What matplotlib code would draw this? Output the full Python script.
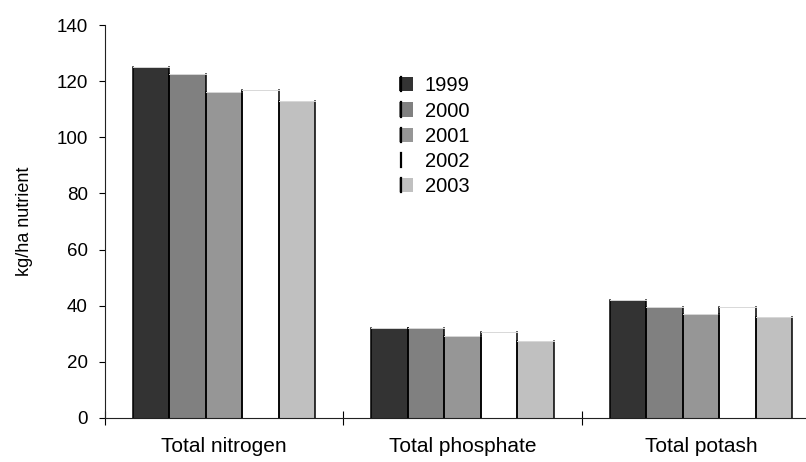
import matplotlib
matplotlib.use("Agg")
import matplotlib.pyplot as plt
from matplotlib.patches import Patch, Rectangle
from matplotlib.lines import Line2D
from matplotlib.legend_handler import HandlerBase
import numpy as np

# 数据
categories = ["Total nitrogen", "Total phosphate", "Total potash"]
years = ["1999", "2000", "2001", "2002", "2003"]
v1999 = [125.0, 32.0, 41.9]
v2000 = [122.6, 32.0, 39.5]
v2001 = [116.0, 29.1, 36.9]
v2002 = [116.7, 30.8, 39.7]
v2003 = [112.8, 27.5, 35.9]
series = [v1999, v2000, v2001, v2002, v2003]
colors = ["#333333", "#808080", "#969696", "#ffffff", "#c0c0c0"]

plt.rcParams["font.family"] = ["Liberation Sans", "DejaVu Sans"]


class BarHandler(HandlerBase):
    """图例方块, 左侧带黑线"""
    def create_artists(self, legend, orig_handle, xdescent, ydescent,
                       width, height, fontsize, trans):
        x0, y0 = -xdescent, -ydescent
        r = Rectangle((x0, y0), width, height, facecolor=orig_handle.get_facecolor(),
                      edgecolor="none", transform=trans)
        l = Line2D([x0 + 1.5, x0 + 1.5], [y0, y0 + height], color="black",
                   lw=1.6, transform=trans)
        return [r, l]


fig = plt.figure(figsize=(8.06, 4.62), dpi=100)
ax = fig.add_axes([105 / 806, 44 / 462, 715 / 806, 393 / 462])

xs = np.arange(len(categories))
width = 0.153
for i, (vals, c) in enumerate(zip(series, colors)):
    bars = ax.bar(xs + (i - 2) * width, vals, width, color=c, edgecolor="none",
                  label=years[i], zorder=2)
    # 柱子左右黑边
    for b in bars:
        x0 = b.get_x()
        h = b.get_height()
        ax.plot([x0 + width, x0 + width], [0, h], color="black", lw=1.1, zorder=3)
        ax.plot([x0, x0], [0, h], color="black", lw=1.1, zorder=3)
        ax.plot([x0, x0 + width], [h, h], color="#d8d8d8", lw=0.7, zorder=3)

ax.set_xlim(-0.5, 2.5)
ax.set_ylim(0, 140)
ax.set_yticks(range(0, 141, 20))
ax.tick_params(axis="y", direction="out", length=4.5, width=0.8, labelsize=13.5, pad=8)

ax.set_xticks([-0.5, 0.5, 1.5, 2.5])
ax.set_xticklabels([])
ax.tick_params(axis="x", which="major", direction="inout", length=9.5, width=0.8)
ax.set_xticks(xs, minor=True)
ax.set_xticklabels(categories, minor=True)
ax.tick_params(axis="x", which="minor", length=0, labelsize=15, pad=14)

for s in ["top", "right"]:
    ax.spines[s].set_visible(False)
for s in ["left", "bottom"]:
    ax.spines[s].set_linewidth(0.8)
    ax.spines[s].set_color("#222222")

ax.set_ylabel("kg/ha nutrient", fontsize=13, labelpad=17)

handles = [Patch(facecolor=c, edgecolor="none") for c in colors]
ax.legend(handles, years, loc="upper left", bbox_to_anchor=(0.40, 0.89),
          frameon=False, fontsize=14.5, handlelength=0.68, handleheight=0.72,
          handletextpad=0.6, labelspacing=0.31, borderaxespad=0,
          handler_map={Patch: BarHandler()})

plt.savefig("out.png", dpi=100)
plt.close()
